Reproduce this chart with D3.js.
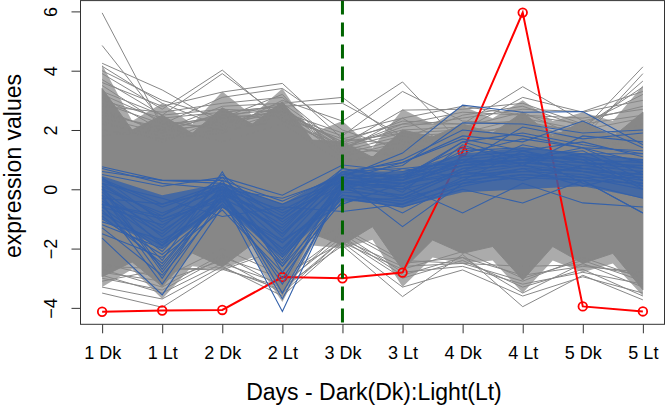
<!DOCTYPE html>
<html><head><meta charset="utf-8">
<script src="https://cdn.jsdelivr.net/npm/d3@7/dist/d3.min.js"></script>
<style>
body{margin:0;background:#fff}
svg{display:block}
text{font-family:"Liberation Sans",Arial,Helvetica,sans-serif;fill:#000}
</style>
</head><body>
<svg id="c" width="666" height="406"></svg>
<script>
// ---------- data ----------
const categories = ["1 Dk","1 Lt","2 Dk","2 Lt","3 Dk","3 Lt","4 Dk","4 Lt","5 Dk","5 Lt"];
const yTicks = [-4, -2, 0, 2, 4, 6];
const xTitle = "Days - Dark(Dk):Light(Lt)";
const yTitle = "expression values";
const markerCategory = "3 Dk";

// highlighted profile (red)
const redSeries = [-4.13, -4.09, -4.07, -2.96, -3.00, -2.81, 1.27, 5.96, -3.95, -4.12];

// gray profiles: read at each category and half-way between
const grayEnvPos   = [1, 1.5, 2, 2.5, 3, 3.5, 4, 4.5, 5, 5.5, 6, 6.5, 7, 7.5, 8, 8.5, 9, 9.5, 10];
// solid core
const grayEnvUpper = [3.4, 2.0, 2.5, 1.89, 2.75, 2.2, 2.95, 1.66, 1.6, 1.08, 2.0, 1.77, 2.2, 1.89, 2.6, 1.77, 2.3, 1.77, 2.6];
const grayEnvLower = [-2.95, -2.45, -3.28, -2.15, -2.61, -1.85, -3.56, -1.5, -1.88, -1.26, -2.72, -1.71, -2.16, -1.93, -3.06, -1.93, -2.5, -2.16, -3.39];
// sparser fringe
const grayOuterUpper = [4.2, 2.3, 2.9, 2.2, 3.3, 2.5, 3.4, 1.9, 2.3, 1.4, 2.7, 2.2, 2.8, 2.4, 3.0, 2.3, 2.6, 2.3, 3.5];
const grayOuterLower = [-3.3, -2.7, -3.7, -2.6, -2.7, -2.3, -3.8, -1.9, -2.0, -1.7, -3.3, -2.3, -2.5, -2.4, -3.5, -2.4, -2.8, -2.5, -3.6];

// individual gray profiles at the fringes
const grayLines = [
  [5.95, 2.1, 1.6, 2.2, 0.9, 1.3, 1.5, 1.2, 0.9, 1.1],
  [4.85, 2.3, 2.0, 2.6, 1.1, 1.6, 1.0, 1.5, 1.3, 1.8],
  [4.25, 3.35, 2.2, 2.8, 1.2, 1.4, 1.6, 1.8, 1.6, 1.5],
  [4.15, 2.9, 2.1, 2.7, 1.4, 1.9, 1.4, 1.7, 1.5, 2.0],
  [4.0, 3.0, 2.4, 3.2, 1.0, 1.2, 1.8, 2.2, 1.2, 1.3],
  [3.9, 2.7, 4.02, 2.3, 1.5, 1.1, 1.6, 1.9, 1.4, 1.6],
  [3.7, 2.5, 3.9, 2.4, 1.3, 2.4, 1.2, 1.4, 1.8, 1.2],
  [3.6, 2.8, 3.28, 3.57, 1.7, 1.5, 2.0, 2.0, 1.7, 1.9],
  [3.5, 2.2, 3.1, 3.4, 2.0, 1.3, 1.5, 1.6, 2.0, 1.7],
  [2.6, 2.0, 2.8, 2.9, 3.1, 1.6, 1.7, 2.3, 1.6, 2.2],
  [2.4, 1.9, 2.6, 2.8, 2.9, 1.8, 1.3, 1.8, 1.9, 1.5],
  [2.2, 1.8, 2.0, 3.0, 2.3, 3.62, 1.5, 2.1, 1.8, 2.0],
  [2.0, 1.7, 1.9, 2.5, 1.8, 3.3, 2.3, 2.2, 2.0, 2.4],
  [1.8, 2.0, 2.2, 2.7, 1.5, 2.67, 2.7, 2.9, 2.2, 2.5],
  [2.3, 1.6, 2.4, 2.6, 1.9, 2.4, 2.8, 2.5, 2.4, 2.7],
  [2.5, 2.1, 2.5, 2.4, 1.7, 2.2, 2.2, 3.46, 2.3, 2.8],
  [2.7, 1.9, 2.3, 2.5, 1.6, 1.9, 2.0, 3.1, 2.6, 3.0],
  [3.2, 2.3, 2.0, 2.3, 1.4, 2.1, 2.4, 2.7, 2.62, 3.3],
  [3.0, 2.4, 2.6, 2.8, 1.3, 1.8, 1.9, 2.4, 2.0, 4.13],
  [2.9, 2.2, 2.4, 2.9, 1.5, 2.0, 2.1, 2.6, 1.7, 3.9],
  [3.3, 2.5, 2.7, 2.6, 1.6, 2.3, 2.2, 2.3, 1.9, 3.65],
  [3.1, 2.0, 2.5, 2.7, 1.2, 1.7, 2.5, 2.8, 2.1, 3.45],
  [2.8, 2.6, 2.9, 3.1, 1.4, 2.2, 2.6, 2.5, 2.2, 3.2],
  [-3.5, -3.98, -2.7, -3.3, -1.9, -3.62, -2.2, -3.96, -2.9, -3.73],
  [-3.3, -3.7, -2.6, -3.6, -1.8, -3.3, -2.72, -3.6, -2.95, -3.5],
  [-3.1, -2.7, -2.65, -3.4, -1.7, -3.0, -2.4, -3.3, -2.7, -3.6],
  [-2.9, -3.5, -2.5, -3.2, -1.6, -2.9, -2.3, -3.5, -2.5, -3.3],
  [-3.0, -3.4, -2.3, -3.0, -1.5, -2.8, -2.6, -3.2, -2.8, -3.2],
  [-2.8, -3.1, -2.4, -3.5, -1.7, -2.6, -2.5, -3.1, -2.3, -3.0],
  [-2.7, -3.3, -2.2, -3.3, -1.4, -2.5, -2.3, -2.9, -2.6, -2.8],
  [-2.5, -3.0, -2.0, -2.9, -1.8, -2.7, -2.1, -3.0, -2.4, -3.1],
  [-2.6, -2.68, -2.72, -2.0, -1.3, -2.4, -2.5, -2.6, -2.55, -2.9]
];

// dense blue core at each category
const blueEnvUpper = [0.45, -0.2, 0.2, -0.5, 0.6, 0.6, 1.2, 1.4, 1.2, 1.0];
const blueEnvLower = [-1.0, -2.0, -0.6, -2.3, -0.35, -0.6, -0.1, 0.0, 0.1, -0.3];

// individual blue profiles
const blueLines = [
  [0.76, 0.3, 0.2, -0.5, 0.3, 0.2, 0.5, 0.6, 0.7, 0.4],
  [0.6, 0.3, 0.3, -0.4, 0.5, 0.4, 0.8, 0.9, 0.8, 0.6],
  [-1.65, -3.56, -0.6, -1.8, -0.2, -0.4, 0.3, 0.5, 0.4, 0.0],
  [-0.5, -3.2, -0.3, -4.12, 0.2, 0.0, 0.5, 0.8, 0.6, 0.3],
  [-0.2, -3.0, 0.0, -3.5, 0.0, -0.3, 0.6, 0.9, 0.7, 0.5],
  [0.1, -2.7, -0.2, -3.2, 0.3, -1.26, 0.2, 0.4, 0.3, 0.2],
  [-0.3, -2.4, 0.59, -2.8, 0.1, 0.2, 0.8, 1.0, 0.9, 0.7],
  [0.2, -0.3, -0.92, -0.6, -0.75, -0.5, 0.1, 0.5, 0.3, -0.8],
  [-0.5, -1.0, -0.2, -1.0, 0.4, 1.22, 2.84, 2.6, 2.62, 1.5],
  [0.0, -0.8, 0.0, -1.2, 0.5, 0.8, 2.24, 2.2, 1.9, 2.0],
  [-0.4, -1.5, 0.2, -1.6, 0.6, 0.9, 1.8, 1.6, 2.3, 1.4],
  [0.3, -0.6, 0.1, -0.9, 0.7, 0.4, 1.6, 1.9, 1.5, 1.2],
  [-0.8, -1.9, -0.4, -2.3, 0.0, 0.1, -0.8, 0.2, -0.46, -0.6],
  [-1.0, -2.2, -0.5, -2.6, -0.3, -0.6, 0.0, -0.46, 0.3, -0.8],
  [0.5, 0.1, 0.4, -0.2, 0.82, 0.6, 1.0, 1.2, 1.0, 0.9],
  [-0.6, -1.2, -0.1, -1.5, 0.2, 0.3, 1.3, 1.4, 1.2, 1.0],
  [-1.2, -2.0, -0.4, -2.0, -0.1, -0.2, 0.7, 1.0, 0.6, 0.2],
  [0.0, -1.6, 0.0, -1.8, 0.4, 0.5, 0.9, 1.1, 1.3, 0.3],
  [-0.3, -0.5, 0.2, -0.8, 0.1, 0.7, 0.4, 0.7, 0.1, 0.6],
  [0.4, -1.1, -0.3, -1.3, 0.6, -0.1, 1.5, 0.8, 1.8, 1.6],
  [-0.9, -2.5, -0.2, -2.4, 0.3, 0.0, 1.1, 1.3, 0.9, 0.8],
  [-0.1, -1.9, 0.3, -2.6, 0.4, 0.2, 0.6, 1.5, 1.1, 0.1],
  [0.7, 0.2, 0.0, -0.3, 0.4, 0.3, 0.9, 1.0, 1.1, 0.7],
  [-1.3, -2.9, -0.5, -3.0, -0.2, -0.5, 0.4, 0.6, 0.5, 0.1],
  [-0.7, -2.6, -0.1, -3.7, 0.1, -0.2, 0.7, 0.8, 0.4, 0.4],
  [0.2, -1.3, 0.5, -1.1, 0.3, 0.9, 1.7, 1.3, 1.6, 1.1],
  [-0.4, -1.8, -0.3, -2.1, 0.2, 0.4, 1.2, 1.7, 1.4, 0.9],
  [-1.5, -2.3, -0.7, -2.8, -0.4, -0.3, 0.2, 0.7, 0.6, 0.5],
  [0.1, -0.9, 0.1, -1.5, 0.5, 1.0, 2.0, 1.8, 1.4, 1.3],
  [-0.2, -1.4, -0.1, -1.0, 0.6, 0.7, 0.9, 2.1, 1.7, 1.9],
  [0.35, -0.5, 0.0, -0.7, 0.3, -0.3, 0.6, 0.3, 0.8, 1.0],
  [-0.6, -2.1, 0.1, -2.2, 0.0, 0.5, 1.4, 1.1, 1.0, 0.0],
  [-1.1, -1.7, -0.6, -1.7, -0.5, 0.2, 0.8, 1.2, 0.2, -0.3],
  [0.0, -2.8, -0.2, -2.5, 0.2, 0.1, 1.0, 0.9, 1.2, 1.2],
  [-0.5, -0.9, 0.4, -1.4, 0.7, 0.3, 1.6, 1.0, 1.4, 0.5],
  [0.2, -1.0, -0.4, -2.0, 0.1, -0.8, 0.3, 1.3, 0.7, 0.8]
];

// ---------- drawing ----------
const svg = d3.select("#c");
const x = d3.scaleLinear().domain([0.64, 10.36]).range([80.5, 664.5]);
const y = d3.scaleLinear().domain([-4.554, 6.364]).range([324.3, 0.6]);
const idx = d3.range(1, categories.length + 1);

svg.append("clipPath").attr("id", "pc").append("rect")
  .attr("x", x.range()[0]).attr("y", y.range()[1])
  .attr("width", x.range()[1] - x.range()[0]).attr("height", y.range()[0] - y.range()[1]);
const plot = svg.append("g").attr("clip-path", "url(#pc)");

const GRAY = "#878787", BLUE = "#3461aa";

const area = d3.area().x(d => x(d.p)).y0(d => y(d.lo)).y1(d => y(d.hi));
plot.append("path")
  .datum(grayEnvPos.map((p, i) => ({p, hi: grayOuterUpper[i], lo: grayOuterLower[i]})))
  .attr("d", area).attr("fill", GRAY).attr("fill-opacity", 0.7);
plot.append("path")
  .datum(grayEnvPos.map((p, i) => ({p, hi: grayEnvUpper[i], lo: grayEnvLower[i]})))
  .attr("d", area).attr("fill", GRAY).attr("stroke", GRAY).attr("stroke-width", 1);

const line = d3.line().x((d, i) => x(i + 1)).y(d => y(d));
plot.selectAll(".gl").data(grayLines).join("path").attr("class", "gl")
  .attr("d", line).attr("fill", "none").attr("stroke", GRAY).attr("stroke-width", 1);

// red profile
plot.append("path").datum(redSeries).attr("d", line)
  .attr("fill", "none").attr("stroke", "#ff0000").attr("stroke-width", 2);
plot.selectAll(".rc").data(redSeries).join("circle").attr("class", "rc")
  .attr("cx", (d, i) => x(i + 1)).attr("cy", d => y(d)).attr("r", 4.3)
  .attr("fill", "none").attr("stroke", "#ff0000").attr("stroke-width", 1.8);

// blue core + lines
plot.append("path")
  .datum(idx.map((p, i) => ({p, hi: blueEnvUpper[i], lo: blueEnvLower[i]})))
  .attr("d", area).attr("fill", BLUE).attr("fill-opacity", 0.8);
plot.selectAll(".bl").data(blueLines).join("path").attr("class", "bl")
  .attr("d", line).attr("fill", "none").attr("stroke", BLUE).attr("stroke-width", 1.1);

// vertical marker
const mx = x(categories.indexOf(markerCategory) + 1);
svg.append("line").attr("x1", mx).attr("x2", mx)
  .attr("y1", y.range()[1]).attr("y2", y.range()[0])
  .attr("stroke", "#006400").attr("stroke-width", 3).attr("stroke-dasharray", "14 8");

// box
svg.append("rect").attr("x", x.range()[0]).attr("y", y.range()[1])
  .attr("width", x.range()[1] - x.range()[0]).attr("height", y.range()[0] - y.range()[1])
  .attr("fill", "none").attr("stroke", "#333").attr("stroke-width", 1);

// axes
const xa = svg.append("g").attr("transform", `translate(0,${y.range()[0]})`)
  .call(d3.axisBottom(x).tickValues(idx).tickFormat(i => categories[i - 1]).tickSize(9).tickPadding(13));
xa.select(".domain").remove();
xa.selectAll("line").attr("stroke", "#333");
xa.selectAll("text").attr("font-size", 18).attr("dy", "0.71em")
  .style("font-family", '"Liberation Sans", Arial, sans-serif').attr("fill", "#000");

const ya = svg.append("g").attr("transform", `translate(${x.range()[0]},0)`)
  .call(d3.axisLeft(y).tickValues(yTicks).tickSize(9));
ya.select(".domain").remove();
ya.selectAll("line").attr("stroke", "#333");
ya.selectAll("text").attr("x", null).attr("dy", null)
  .attr("transform", "translate(-23.5,0) rotate(-90)")
  .attr("text-anchor", "middle").attr("font-size", 18)
  .style("font-family", '"Liberation Sans", Arial, sans-serif').attr("fill", "#000");

svg.append("text").attr("x", 374).attr("y", 400).attr("text-anchor", "middle")
  .attr("font-size", 23).text(xTitle);
svg.append("text").attr("transform", "translate(21,166) rotate(-90)")
  .attr("text-anchor", "middle").attr("font-size", 23).text(yTitle);
</script>
</body></html>
